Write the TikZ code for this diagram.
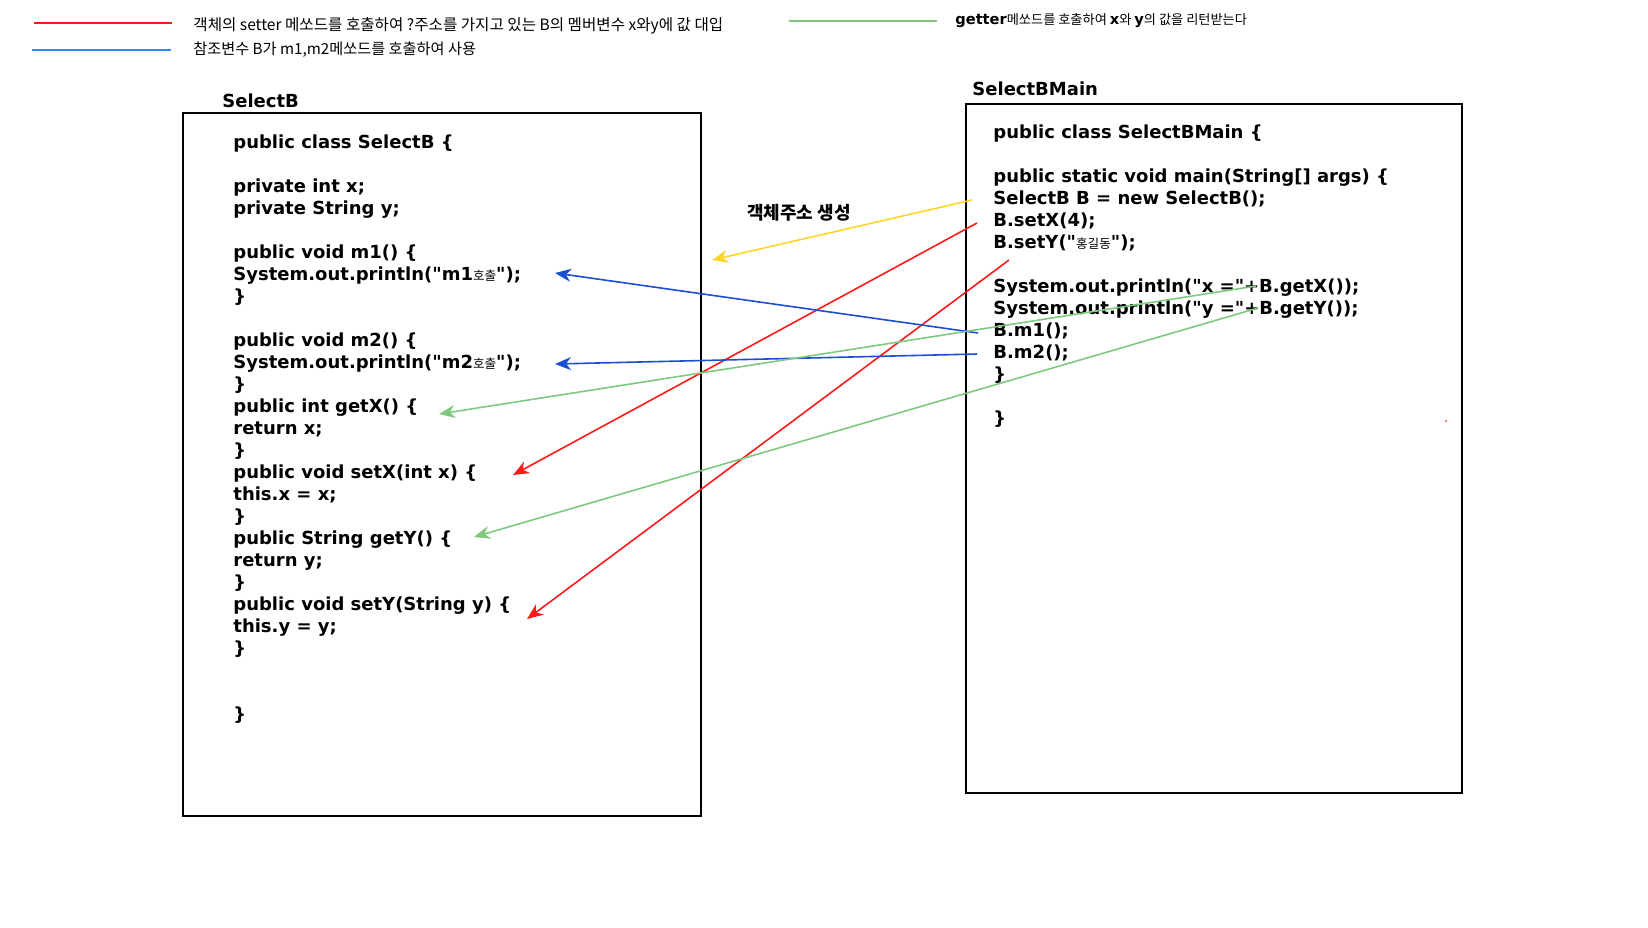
\documentclass[tikz,border=0pt]{standalone}
\usepackage{fontspec}
\setmainfont{DejaVu Sans}
\newfontfamily\codefont{DejaVu Sans}
\newfontfamily\krfont{Noto Sans CJK KR}
\usepackage{tikz}
\usetikzlibrary{arrows.meta,positioning}
\definecolor{lred}{HTML}{FF1A1A}
\definecolor{lblue}{HTML}{1A4FD0}
\definecolor{legblue}{HTML}{3385F5}
\definecolor{lgreen}{HTML}{7FC97F}
\definecolor{lyellow}{HTML}{FFD42A}
\newcommand{\kor}[1]{{\krfont\mdseries\fontsize{6.3}{6}\selectfont #1}}
\newcommand{\legkr}[1]{{\krfont\mdseries\fontsize{6.6}{8}\selectfont #1}}

\begin{document}
\begin{tikzpicture}[x=0.5pt,y=-0.5pt,
  code/.style={anchor=base west,inner sep=0pt,font=\codefont\fontsize{9}{11}\selectfont\bfseries},
  leg/.style={anchor=west,inner sep=0pt,font=\krfont\fontsize{7.6}{8}\selectfont},
  legline/.style={line width=0.8pt},
  frame/.style={draw,line width=1.1pt},
  arr/.style={line width=0.8pt,-{Stealth[length=8pt,width=6.5pt,inset=2.5pt]}}]
\useasboundingbox (0,0) rectangle (1648,927);
% legend
\coordinate (lr1) at (34,23);\coordinate (lr2) at (172,23);
\coordinate (lb1) at (32,50);\coordinate (lb2) at (171,50);
\coordinate (lg1) at (789,21);\coordinate (lg2) at (937,21);
\draw[legline,lred] (lr1)--(lr2);\draw[legline,legblue] (lb1)--(lb2);\draw[legline,lgreen] (lg1)--(lg2);
\node[leg,right=10.5pt of lr2,yshift=-1.5pt,font=\krfont\fontsize{7.8}{8}\selectfont] (legr) {객체의 setter 메쏘드를 호출하여 ?주소를 가지고 있는 B의 멤버변수 x와y에 값 대입};
\node[leg,right=11pt of lb2] (legb) {참조변수 B가 m1,m2메쏘드를 호출하여 사용};
\node[leg,right=9pt of lg2,font=\codefont\fontsize{7.3}{8}\selectfont\bfseries] (legg) {getter\legkr{메쏘드를 호출하여 }x\legkr{와 }y\legkr{의 값을 리턴받는다}};

% SelectB
\node[code] (tb) at (222,107) {SelectB};
\draw[frame] (183,113) rectangle (701,816);
\node[code] (b0) at (233,148) {public class SelectB \{};
\node[code] (b2) at (233,192) {private int x;};
\node[code] (b3) at (233,214) {private String y;};
\node[code] (b5) at (233,258) {public void m1() \{};
\node[code] (b6) at (233,280) {System.out.println("m1\kor{호출}");};
\node[code] (b7) at (233,302) {\}};
\node[code] (b9) at (233,346) {public void m2() \{};
\node[code] (b10) at (233,368) {System.out.println("m2\kor{호출}");};
\node[code] (b11) at (233,390) {\}};
\node[code] (b12) at (233,412) {public int getX() \{};
\node[code] (b13) at (233,434) {return x;};
\node[code] (b14) at (233,456) {\}};
\node[code] (b15) at (233,478) {public void setX(int x) \{};
\node[code] (b16) at (233,500) {this.x = x;};
\node[code] (b17) at (233,522) {\}};
\node[code] (b18) at (233,544) {public String getY() \{};
\node[code] (b19) at (233,566) {return y;};
\node[code] (b20) at (233,588) {\}};
\node[code] (b21) at (233,610) {public void setY(String y) \{};
\node[code] (b22) at (233,632) {this.y = y;};
\node[code] (b23) at (233,654) {\}};
\node[code] (b26) at (233,720) {\}};

% SelectBMain
\node[code] (tm) at (972,95) {SelectBMain};
\draw[frame] (966,104) rectangle (1462,793);
\node[code] (m0) at (993,138) {public class SelectBMain \{};
\node[code] (m2) at (993,182) {public static void main(String[] args) \{};
\node[code] (m3) at (993,204) {SelectB B = new SelectB();};
\node[code] (m4) at (993,226) {B.setX(4);};
\node[code] (m5) at (993,248) {B.setY("\kor{홍길동}");};
\node[code] (m7) at (993,292) {System.out.println("x ="+B.getX());};
\node[code] (m8) at (993,314) {System.out.println("y ="+B.getY());};
\node[code] (m9) at (993,336) {B.m1();};
\node[code] (m10) at (993,358) {B.m2();};
\node[code] (m11) at (993,380) {\}};
\node[code] (m13) at (993,424) {\}};
\fill[lred!55] (1445,420) rectangle (1447,422);

% arrows
\coordinate (ys) at (972,200);\coordinate (ye) at (712,260);
\coordinate (r1s) at (977,223);\coordinate (r1e) at (513,475);
\coordinate (r2s) at (1009,260);\coordinate (r2e) at (527,619);
\coordinate (b1s) at (978,333);\coordinate (b1e) at (555,273);
\coordinate (b2s) at (977,354);\coordinate (b2e) at (555,364);
\coordinate (g1s) at (1256,286);\coordinate (g1e) at (439,414);
\coordinate (g2s) at (1258,308);\coordinate (g2e) at (474,537);
\node[inner sep=0pt,font=\krfont\bfseries\fontsize{9}{11}\selectfont] (addr) at (799,213) {객체주소 생성};
\draw[arr,lyellow] (ys)--(ye);
\draw[arr,lred] (r1s)--(r1e);\draw[arr,lred] (r2s)--(r2e);
\draw[arr,lblue] (b1s)--(b1e);\draw[arr,lblue] (b2s)--(b2e);
\draw[arr,lgreen] (g1s)--(g1e);\draw[arr,lgreen] (g2s)--(g2e);
\end{tikzpicture}
\end{document}
